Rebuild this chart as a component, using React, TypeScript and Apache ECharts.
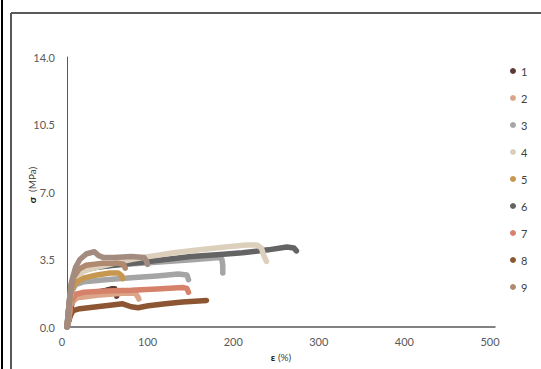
import React, { useEffect, useRef } from "react";
import * as echarts from "echarts";

const xTicks = [0, 100, 200, 300, 400, 500];
const yTicks = [0, 3.5, 7, 10.5, 14];
const legendNames = ["1", "2", "3", "4", "5", "6", "7", "8", "9"];
const colors = ["#5b3a34", "#dba58a", "#a5a5a5", "#dccfbb", "#c8974f", "#646464", "#d6826a", "#8c5632", "#b08a70"];

const s1 = [[0,0],[3,0.5],[6,1.3],[15,1.7],[35,1.8],[45,1.9],[52,1.98],[56,1.98],[57,1.8],[58,1.6]];
const s2 = [[0,0],[2,0.4],[4,1.1],[10,1.5],[35,1.65],[65,1.75],[80,1.75],[83,1.55],[84,1.45]];
const s3 = [[0,0],[2,0.8],[5,1.8],[10,2.2],[20,2.35],[45,2.45],[75,2.55],[105,2.65],[130,2.75],[140,2.7],[142,2.45]];
const s3b = [[0,0],[3,1.5],[8,2.6],[20,3.0],[50,3.2],[100,3.35],[150,3.5],[178,3.6],[181,3.5],[182,3.2],[182,2.8]];
const s4 = [[0,0],[2,0.8],[5,2.0],[10,2.6],[20,2.9],[35,3.1],[55,3.3],[75,3.5],[95,3.65],[125,3.85],[155,4.0],[185,4.15],[210,4.25],[222,4.25],[227,4.1],[230,3.7],[233,3.4]];
const s5 = [[0,0],[2,0.8],[5,1.9],[10,2.3],[20,2.55],[35,2.7],[50,2.8],[60,2.8],[64,2.65],[65,2.5]];
const s6 = [[0,0],[2,1.0],[5,2.2],[10,2.7],[20,2.95],[35,3.1],[55,3.2],[85,3.35],[115,3.5],[145,3.65],[175,3.75],[205,3.85],[235,4.0],[257,4.15],[265,4.1],[268,3.95]];
const s7 = [[0,0],[2,0.4],[5,1.3],[10,1.7],[20,1.8],[45,1.87],[75,1.9],[105,1.97],[135,2.05],[140,2.0],[142,1.8]];
const s8 = [[0,0],[2,0.3],[4,0.6],[7,0.85],[15,0.95],[35,1.05],[55,1.15],[65,1.2],[75,1.05],[83,1.0],[95,1.1],[115,1.2],[135,1.3],[163,1.38]];
const s9 = [[0,0],[2,0.9],[4,1.8],[8,2.6],[14,3.0],[22,3.2],[40,3.3],[60,3.3],[66,3.25],[68,3.05]];
const s9b = [[0,0],[2,1.0],[5,2.3],[10,3.1],[15,3.5],[23,3.8],[32,3.9],[37,3.7],[43,3.6],[55,3.6],[75,3.65],[90,3.6],[93,3.4],[94,3.25]];

export default function App() {
  const ref = useRef<HTMLDivElement>(null);
  useEffect(() => {
    const chart = echarts.init(ref.current!, null, { renderer: "svg" });
    const mk = (name: string, data: number[][], color: string) => ({
      name,
      type: "line",
      data,
      symbol: "none",
      showSymbol: false,
      lineStyle: { width: 5.5, color, cap: "round", join: "round" },
      itemStyle: { color },
    });
    const series = [
      mk("1", s1, colors[0]),
      mk("8", s8, colors[7]),
      mk("2", s2, colors[1]),
      mk("7", s7, colors[6]),
      mk("3", s3, colors[2]),
      mk("3b", s3b, colors[2]),
      mk("6", s6, colors[5]),
      mk("4", s4, colors[3]),
      mk("5", s5, colors[4]),
      mk("9", s9, colors[8]),
      mk("9b", s9b, "#a38b80"),
    ];
    chart.setOption({
      animation: false,
      textStyle: { fontFamily: "Lato" },
      grid: { left: 67, right: 46, top: 57, bottom: 42 },
      legend: {
        data: legendNames.map((n, i) => ({ name: n, itemStyle: { color: colors[i] } })),
        orient: "vertical",
        left: 510,
        top: 64,
        padding: 0,
        itemWidth: 6,
        itemHeight: 6,
        itemGap: 13,
        icon: "circle",
        textStyle: { fontSize: 11, color: "#404040", lineHeight: 14 },
      },
      xAxis: {
        type: "value",
        min: xTicks[0],
        max: xTicks[xTicks.length - 1],
        interval: 100,
        name: "{b|ε} (%)",
        nameLocation: "middle",
        nameGap: 25,
        nameMoveOverlap: false,
        nameTextStyle: { fontSize: 10, color: "#404040", rich: { b: { fontWeight: "bold", fontSize: 10, color: "#202020" } } },
        axisLine: { onZero: false, lineStyle: { color: "#595959", width: 1.5 } },
        axisTick: { show: false },
        splitLine: { show: false },
        axisLabel: { fontSize: 11, color: "#595959", margin: 9, padding: [0, 10, 0, 0] },
      },
      yAxis: {
        type: "value",
        min: yTicks[0],
        max: yTicks[yTicks.length - 1],
        interval: 3.5,
        name: "{b|σ}  (MPa)",
        nameLocation: "middle",
        nameGap: 30,
        nameMoveOverlap: false,
        nameTextStyle: { fontSize: 10, color: "#404040", padding: [0, 0, 0, 14], rich: { b: { fontWeight: "bold", fontSize: 10, color: "#202020" } } },
        axisLine: { show: true, lineStyle: { color: "#595959", width: 1 } },
        axisTick: { show: false },
        splitLine: { show: false },
        axisLabel: { fontSize: 11, color: "#595959", margin: 12, formatter: (v: number) => v.toFixed(1) },
      },
      graphic: [
        { type: "line", shape: { x1: 2, y1: 0, x2: 2, y2: 369 }, style: { stroke: "#000", lineWidth: 2 } },
        { type: "line", shape: { x1: 11, y1: 13, x2: 11, y2: 369 }, style: { stroke: "#595959", lineWidth: 2 } },
        { type: "line", shape: { x1: 11, y1: 13, x2: 541, y2: 13 }, style: { stroke: "#595959", lineWidth: 2 } },
      ],
      series,
    });
    return () => chart.dispose();
  }, []);
  return <div ref={ref} style={{ position: "fixed", left: 0, top: 0, width: 541, height: 369, background: "#fff" }} />;
}
